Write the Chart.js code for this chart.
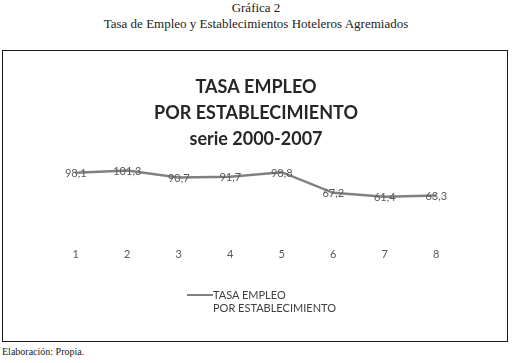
<!DOCTYPE html>
<html>
<head>
<meta charset="utf-8">
<script src="https://cdn.jsdelivr.net/npm/chart.js@4"></script>
<style>
  body { margin: 0; width: 512px; height: 363px; background: #fff; position: relative; overflow: hidden; }
  .hdr { position: absolute; left: 0; width: 512px; text-align: center; font-family: "Liberation Serif", serif; font-size: 13px; color: #222; }
  #box { position: absolute; left: 2px; top: 50px; width: 504px; height: 290px; border: 1px solid #1a1a1a; }
  #wrap { position: absolute; left: 2px; top: 1px; width: 500px; height: 287px; }
  #legend { position: absolute; left: 184px; top: 237px; font-family: Lato, sans-serif; font-size: 11px; color: #404040; line-height: 13px; }
  #legend .ln { position: absolute; left: 0; top: 6px; width: 26px; height: 2px; background: #808080; }
  #legend .tx { position: absolute; left: 26px; top: 0; white-space: nowrap; }
  #foot { position: absolute; left: 2px; top: 346px; font-family: "Liberation Serif", serif; font-size: 10px; color: #222; }
</style>
</head>
<body>
<div class="hdr" style="top:0px">Gráfica 2</div>
<div class="hdr" style="top:16px">Tasa de Empleo y Establecimientos Hoteleros Agremiados</div>
<div id="box">
  <div id="wrap"><canvas id="chart"></canvas></div>
  <div id="legend"><div class="ln"></div><div class="tx">TASA EMPLEO<br>POR ESTABLECIMIENTO</div></div>
</div>
<div id="foot">Elaboración: Propia.</div>
<script>
// chart data
const categories = ['1', '2', '3', '4', '5', '6', '7', '8'];
const tasaEmpleo = [98.1, 101.3, 90.7, 91.7, 98.8, 67.2, 61.4, 63.3];
const titleLines = ['TASA EMPLEO', 'POR ESTABLECIMIENTO', 'serie 2000-2007'];

// draws the value of each point on top of the line, Excel style
const pointLabels = {
  id: 'pointLabels',
  afterDatasetsDraw(chart) {
    const ctx = chart.ctx;
    ctx.save();
    ctx.font = '11px Lato, sans-serif';
    ctx.fillStyle = '#595959';
    ctx.textAlign = 'center';
    ctx.textBaseline = 'middle';
    chart.getDatasetMeta(0).data.forEach((pt, i) => {
      const txt = tasaEmpleo[i].toFixed(1).replace('.', ',');
      ctx.fillText(txt, pt.x, pt.y + 1);
    });
    ctx.restore();
  }
};

new Chart(document.getElementById('chart').getContext('2d'), {
  type: 'line',
  data: {
    labels: categories,
    datasets: [{
      label: 'TASA EMPLEO POR ESTABLECIMIENTO',
      data: tasaEmpleo,
      borderColor: '#808080',
      borderWidth: 2.5,
      pointRadius: 0,
      fill: false,
      tension: 0
    }]
  },
  options: {
    responsive: true,
    maintainAspectRatio: false,
    animation: false,
    layout: { padding: { top: 12, left: 45, right: 43, bottom: 75 } },
    scales: {
      x: {
        offset: true,
        grid: { display: false, drawTicks: true },
        border: { display: false },
        ticks: { color: '#595959', font: { family: 'Lato', size: 11 } }
      },
      y: {
        display: false,
        min: 0,
        max: 120
      }
    },
    plugins: {
      legend: { display: false },
      tooltip: { enabled: false },
      title: {
        display: true,
        text: titleLines,
        color: '#262626',
        font: { family: 'Lato', size: 18, weight: 'bold', lineHeight: 1.45 },
        padding: { top: 10, bottom: 6 }
      }
    }
  },
  plugins: [pointLabels]
});
</script>
</body>
</html>
